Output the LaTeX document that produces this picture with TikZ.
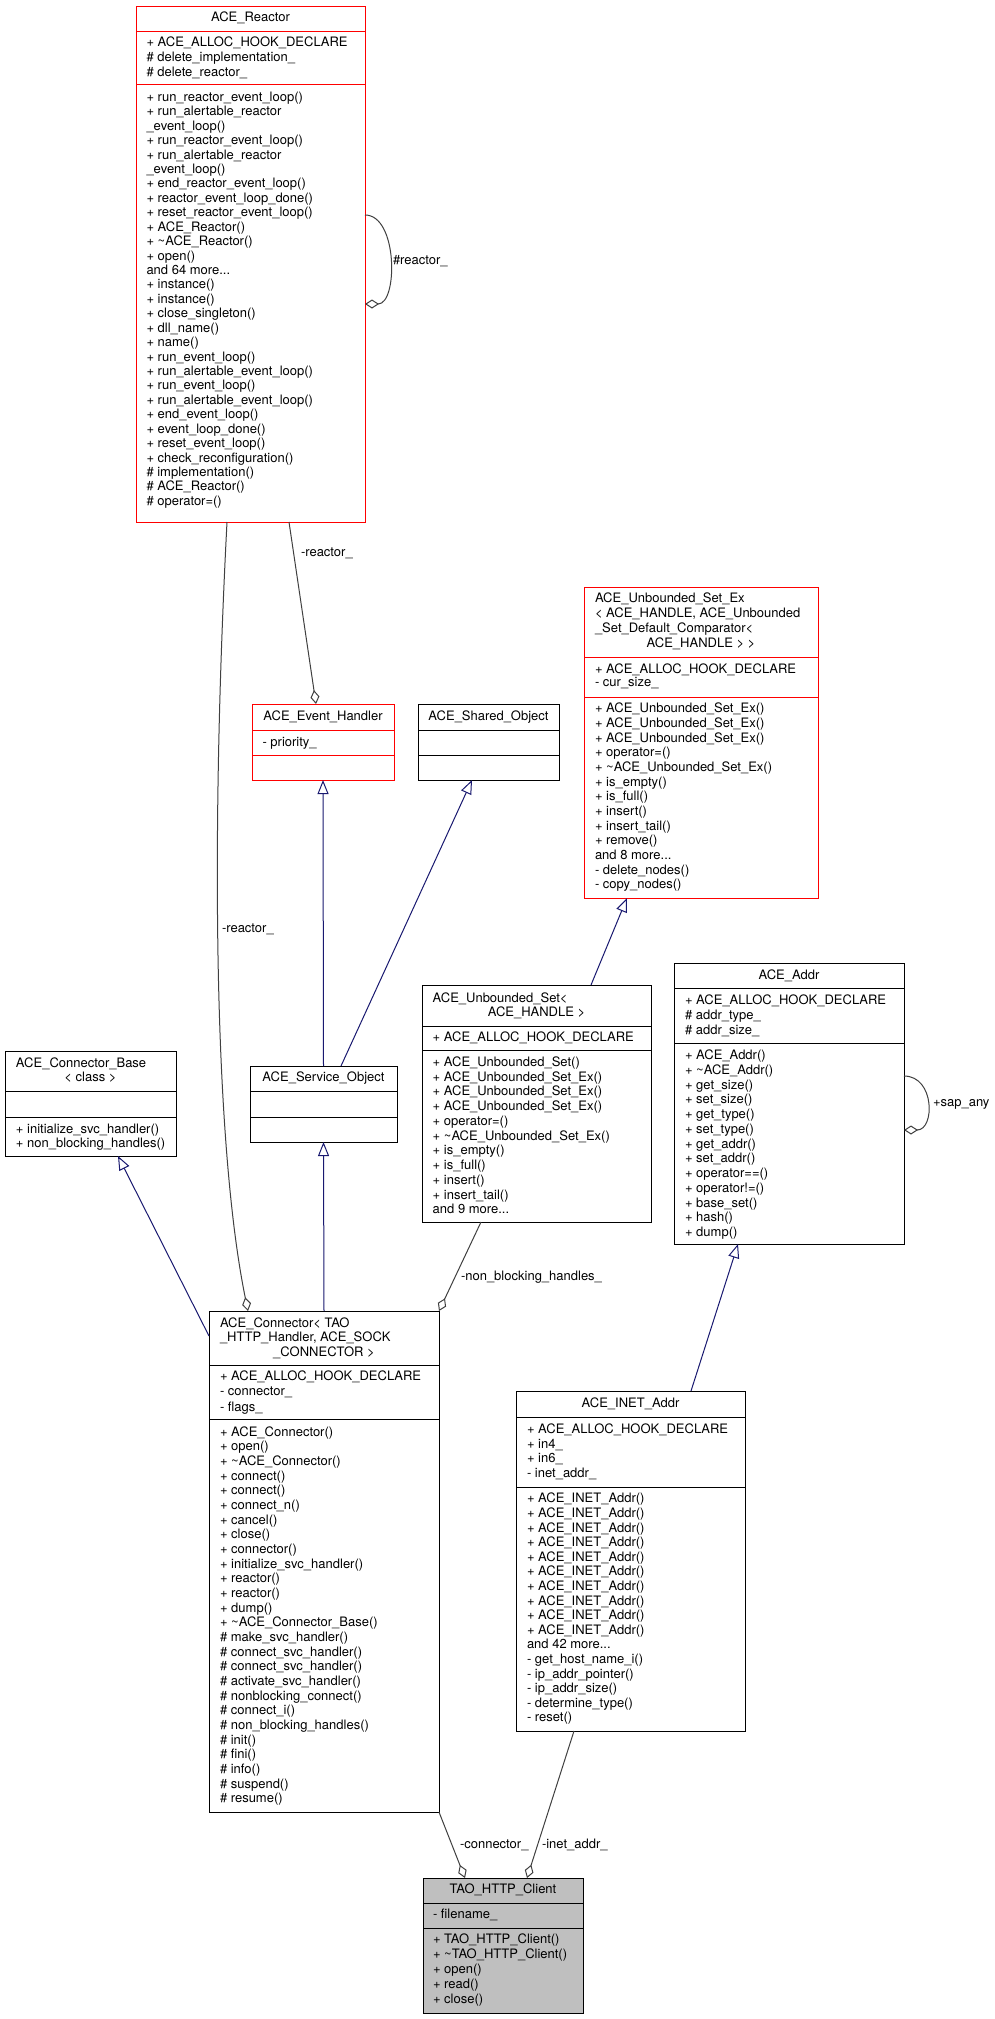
\documentclass[tikz,border=0pt]{standalone}
\usepackage{fontspec}
\setmainfont{TeX Gyre Heros}
\usetikzlibrary{arrows.meta,calc}
\definecolor{inhcol}{RGB}{25,25,112}
\definecolor{aggcol}{RGB}{64,64,64}
\definecolor{boxred}{RGB}{255,0,0}
\definecolor{clientfill}{RGB}{191,191,191}
\newcommand\dfont{\fontsize{13}{15}\selectfont}
\newcommand\mdots{...}
\tikzset{
  x=1pt, y=-1pt,
  umlbox/.style={draw, line width=1pt, inner sep=0pt, outer sep=0pt, anchor=north west},
  txt/.style={anchor=base west, inner sep=0pt, outer sep=0pt, font=\dfont},
  ttl/.style={anchor=base, inner sep=0pt, outer sep=0pt, font=\dfont},
  lbl/.style={anchor=west, inner sep=0pt, outer sep=0pt, font=\dfont},
  inh/.style={draw=inhcol, line width=1pt, -{Triangle[open, length=14pt, width=11pt]}},
  agg/.style={draw=aggcol, line width=1pt, -{Diamond[open, length=14pt, width=9pt]}},
}
% name, x1, y1, x2, y2, sep1, sep2, colour, fill
\newcommand\umlbox[9]{%
  \node[umlbox, draw=#8, fill=#9, minimum width={(#4)-(#2)}, minimum height={(#5)-(#3)}] (#1) at (#2,#3) {};
  \draw[draw=#8, line width=1pt] (#2,#6) -- (#4,#6) (#2,#7) -- (#4,#7);
}
% name prefix, x, first centre y, step, list
\newcommand\umllines[5]{%
  \foreach \t [count=\i from 0] in {#5} \node[txt] (#1\i) at (#2, #3+4.6+\i*#4) {\t};
}
\begin{document}
\begin{tikzpicture}
\path[use as bounding box, fill=white] (0,0) rectangle (995,2019);

% ---------------- ACE_Reactor
\umlbox{reactor}{136}{6}{365}{522}{31}{84}{boxred}{white}
\node[ttl] (reactorT) at (250.5, 17+4.6) {ACE\_Reactor};
\umllines{reactorA}{146.5}{41.7}{15}{%
  + ACE\_ALLOC\_HOOK\_DECLARE, \# delete\_implementation\_, \# delete\_reactor\_}
\umllines{reactorM}{146.5}{96.7}{14.43}{%
  + run\_reactor\_event\_loop(),
  + run\_alertable\_reactor,
  \_event\_loop(),
  + run\_reactor\_event\_loop(),
  + run\_alertable\_reactor,
  \_event\_loop(),
  + end\_reactor\_event\_loop(),
  + reactor\_event\_loop\_done(),
  + reset\_reactor\_event\_loop(),
  + ACE\_Reactor(),
  + \textasciitilde ACE\_Reactor(),
  + open(),
  and 64 more\mdots,
  + instance(),
  + instance(),
  + close\_singleton(),
  + dll\_name(),
  + name(),
  + run\_event\_loop(),
  + run\_alertable\_event\_loop(),
  + run\_event\_loop(),
  + run\_alertable\_event\_loop(),
  + end\_event\_loop(),
  + event\_loop\_done(),
  + reset\_event\_loop(),
  + check\_reconfiguration(),
  \# implementation(),
  \# ACE\_Reactor(),
  \# operator=()}

% ---------------- ACE_Event_Handler
\umlbox{evh}{252}{704}{394}{780}{730}{755}{boxred}{white}
\node[ttl] (evhT) at (323, 716+4.6) {ACE\_Event\_Handler};
\node[txt] (evhA0) at (262.5, 741.7+4.6) {- priority\_};

% ---------------- ACE_Shared_Object
\umlbox{shared}{418}{704}{559}{780}{730}{755}{black}{white}
\node[ttl] (sharedT) at (488.5, 716+4.6) {ACE\_Shared\_Object};

% ---------------- ACE_Unbounded_Set_Ex
\umlbox{setex}{584}{587}{818}{898}{657}{697}{boxred}{white}
\umllines{setexT}{595}{598.3}{14.8}{%
  ACE\_Unbounded\_Set\_Ex, {< ACE\_HANDLE, ACE\_Unbounded}, \_Set\_Default\_Comparator<}
\node[ttl] (setexT3) at (701, 642.7+4.6) {ACE\_HANDLE > >};
\umllines{setexA}{595}{668.5}{13.8}{%
  + ACE\_ALLOC\_HOOK\_DECLARE, - cur\_size\_}
\umllines{setexM}{595}{708.3}{14.67}{%
  + ACE\_Unbounded\_Set\_Ex(),
  + ACE\_Unbounded\_Set\_Ex(),
  + ACE\_Unbounded\_Set\_Ex(),
  + operator=(),
  + \textasciitilde ACE\_Unbounded\_Set\_Ex(),
  + is\_empty(),
  + is\_full(),
  + insert(),
  + insert\_tail(),
  + remove(),
  and 8 more\mdots,
  - delete\_nodes(),
  - copy\_nodes()}

% ---------------- ACE_Unbounded_Set
\umlbox{uset}{422}{985}{651}{1222}{1026}{1050}{black}{white}
\node[txt] (usetT0) at (432.7, 998.3+4.6) {ACE\_Unbounded\_Set<};
\node[ttl] (usetT1) at (536.5, 1011.7+4.6) {ACE\_HANDLE >};
\node[txt] (usetA0) at (432.7, 1036.7+4.6) {+ ACE\_ALLOC\_HOOK\_DECLARE};
\umllines{usetM}{432.7}{1061.7}{14.76}{%
  + ACE\_Unbounded\_Set(),
  + ACE\_Unbounded\_Set\_Ex(),
  + ACE\_Unbounded\_Set\_Ex(),
  + ACE\_Unbounded\_Set\_Ex(),
  + operator=(),
  + \textasciitilde ACE\_Unbounded\_Set\_Ex(),
  + is\_empty(),
  + is\_full(),
  + insert(),
  + insert\_tail(),
  and 9 more\mdots}

% ---------------- ACE_Addr
\umlbox{addr}{674}{963}{904}{1244}{988}{1043}{black}{white}
\node[ttl] (addrT) at (789, 975+4.6) {ACE\_Addr};
\umllines{addrA}{685}{1000}{14.7}{%
  + ACE\_ALLOC\_HOOK\_DECLARE, \# addr\_type\_, \# addr\_size\_}
\umllines{addrM}{685}{1055}{14.75}{%
  + ACE\_Addr(),
  + \textasciitilde ACE\_Addr(),
  + get\_size(),
  + set\_size(),
  + get\_type(),
  + set\_type(),
  + get\_addr(),
  + set\_addr(),
  + operator==(),
  + operator!=(),
  + base\_set(),
  + hash(),
  + dump()}

% ---------------- ACE_Connector_Base
\umlbox{cbase}{5}{1051}{176}{1156}{1091}{1117}{black}{white}
\node[txt] (cbaseT0) at (16, 1063.3+4.6) {ACE\_Connector\_Base};
\node[ttl] (cbaseT1) at (90.5, 1077.3+4.6) {< class >};
\umllines{cbaseM}{16}{1129.3}{13.8}{%
  + initialize\_svc\_handler(), + non\_blocking\_handles()}

% ---------------- ACE_Service_Object
\umlbox{svc}{250}{1066}{397}{1142}{1091}{1117}{black}{white}
\node[ttl] (svcT) at (323.5, 1077.3+4.6) {ACE\_Service\_Object};

% ---------------- ACE_Connector
\umlbox{conn}{209}{1311}{439}{1812}{1365}{1419}{black}{white}
\node[txt] (connT0) at (220, 1322.7+4.6) {ACE\_Connector< TAO};
\node[txt] (connT1) at (220, 1336.7+4.6) {\_HTTP\_Handler, ACE\_SOCK};
\node[ttl] (connT2) at (324, 1351.7+4.6) {\_CONNECTOR >};
\umllines{connA}{220}{1376}{15.2}{%
  + ACE\_ALLOC\_HOOK\_DECLARE, - connector\_, - flags\_}
\umllines{connM}{220}{1431.7}{14.66}{%
  + ACE\_Connector(),
  + open(),
  + \textasciitilde ACE\_Connector(),
  + connect(),
  + connect(),
  + connect\_n(),
  + cancel(),
  + close(),
  + connector(),
  + initialize\_svc\_handler(),
  + reactor(),
  + reactor(),
  + dump(),
  + \textasciitilde ACE\_Connector\_Base(),
  \# make\_svc\_handler(),
  \# connect\_svc\_handler(),
  \# connect\_svc\_handler(),
  \# activate\_svc\_handler(),
  \# nonblocking\_connect(),
  \# connect\_i(),
  \# non\_blocking\_handles(),
  \# init(),
  \# fini(),
  \# info(),
  \# suspend(),
  \# resume()}

% ---------------- ACE_INET_Addr
\umlbox{inet}{516}{1391}{745}{1731}{1417}{1487}{black}{white}
\node[ttl] (inetT) at (630.5, 1403.3+4.6) {ACE\_INET\_Addr};
\umllines{inetA}{527}{1429.3}{14.5}{%
  + ACE\_ALLOC\_HOOK\_DECLARE, + in4\_, + in6\_, - inet\_addr\_}
\umllines{inetM}{527}{1498.3}{14.6}{%
  + ACE\_INET\_Addr(),
  + ACE\_INET\_Addr(),
  + ACE\_INET\_Addr(),
  + ACE\_INET\_Addr(),
  + ACE\_INET\_Addr(),
  + ACE\_INET\_Addr(),
  + ACE\_INET\_Addr(),
  + ACE\_INET\_Addr(),
  + ACE\_INET\_Addr(),
  + ACE\_INET\_Addr(),
  and 42 more\mdots,
  - get\_host\_name\_i(),
  - ip\_addr\_pointer(),
  - ip\_addr\_size(),
  - determine\_type(),
  - reset()}

% ---------------- TAO_HTTP_Client
\umlbox{client}{423}{1878}{583}{2013}{1903}{1928}{black}{clientfill}
\node[ttl] (clientT) at (503, 1889.3+4.6) {TAO\_HTTP\_Client};
\node[txt] (clientA0) at (433, 1914+4.6) {- filename\_};
\umllines{clientM}{433}{1939.3}{15}{%
  + TAO\_HTTP\_Client(),
  + \textasciitilde TAO\_HTTP\_Client(),
  + open(),
  + read(),
  + close()}

% ---------------- connectors
% self loop on ACE_Reactor
\draw[agg] ([yshift=-209pt]reactor.north east)
  .. controls ([xshift=33pt,yshift=-209pt]reactor.north east) and ([xshift=33pt,yshift=-298pt]reactor.north east)
  .. ([yshift=-298pt]reactor.north east);
\node[lbl] (lblSelfReactor) at (393, 261) {\#reactor\_};

% ACE_Reactor -> ACE_Event_Handler
\draw[agg] ([xshift=153pt]reactor.south west) -- ([xshift=64pt]evh.north west);
\node[lbl] (lblReactorEvh) at (301, 553) {-reactor\_};

% ACE_Reactor -> ACE_Connector
\draw[agg] ([xshift=91pt]reactor.south west)
  .. controls (210,850) and (215,1150) .. ([xshift=39pt]conn.north west);
\node[lbl] (lblReactorConn) at (222, 929) {-reactor\_};

% inheritance
\draw[inh] (svc.north) -- (evh.south);
\draw[inh] ([xshift=91pt]svc.north west) -- ([xshift=54pt]shared.south west);
\draw[inh] (conn.north) -- (svc.south);
\draw[inh] ([yshift=-25pt]conn.north west) -- ([xshift=113pt]cbase.south west);
\draw[inh] ([xshift=169pt]uset.north west) -- ([xshift=43pt]setex.south west);
\draw[inh] ([xshift=175pt]inet.north west) -- ([xshift=64pt]addr.south west);

% ACE_Unbounded_Set -> ACE_Connector
\draw[agg] ([xshift=59pt]uset.south west) -- (conn.north east);
\node[lbl] (lblNbh) at (461, 1277) {-non\_blocking\_handles\_};

% self loop on ACE_Addr
\draw[agg] ([yshift=-113pt]addr.north east)
  .. controls ([xshift=31pt,yshift=-113pt]addr.north east) and ([xshift=31pt,yshift=-167pt]addr.north east)
  .. ([yshift=-167pt]addr.north east);
\node[lbl] (lblSap) at (933, 1104) {+sap\_any};

% ACE_Connector -> TAO_HTTP_Client
\draw[agg] (conn.south east) -- ([xshift=42pt]client.north west);
\node[lbl] (lblConnector) at (460, 1845) {-connector\_};

% ACE_INET_Addr -> TAO_HTTP_Client
\draw[agg] ([xshift=58pt]inet.south west) -- ([xshift=104pt]client.north west);
\node[lbl] (lblInet) at (542, 1845) {-inet\_addr\_};
\end{tikzpicture}
\end{document}
